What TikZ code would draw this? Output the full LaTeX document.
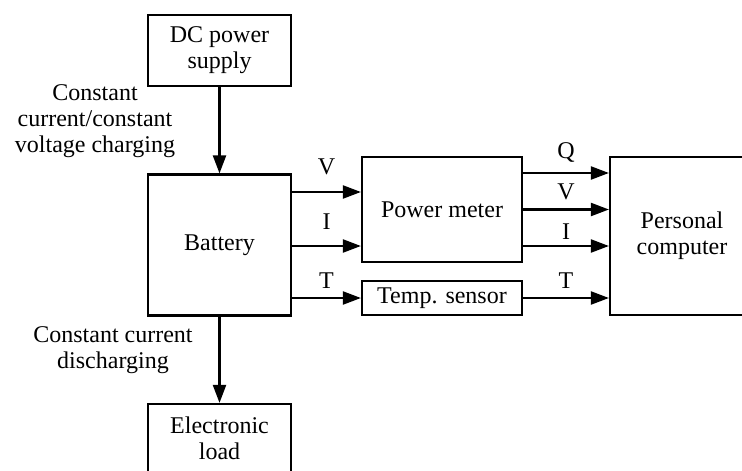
\documentclass[tikz,border=0pt]{standalone}
\usepackage{fontspec}
\setmainfont{Liberation Serif}
\usepackage{tikz}
\usetikzlibrary{arrows.meta, positioning, calc}
\tikzset{
  block/.style={rectangle, draw=black, fill=white, line width=1.1pt,
    align=center, inner sep=0pt, font=\fontsize{12}{13}\selectfont},
  arrow/.style={-{Triangle[length=9pt, width=6.5pt]}, line width=1.1pt},
  lbl/.style={align=center, font=\fontsize{12}{13}\selectfont},
  sig/.style={font=\fontsize{12}{13}\selectfont}
}

\begin{document}
\begin{tikzpicture}[x=0.5pt, y=-0.5pt]
  \useasboundingbox (0,0) rectangle (742,470);
  \clip (0,0) rectangle (742,470);

  % left column
  \node[block, minimum width=71.5pt, minimum height=35.5pt] (dc) at (219.5,50.5) {DC power\\supply};
  \node[block, minimum width=71.5pt, minimum height=70.5pt] (bat) at (219.5,245) {Battery};
  \node[block, minimum width=71.5pt, minimum height=34pt] (load) at (219.5,438) {Electronic\\load};

  % middle and right
  \node[block, minimum width=80pt, minimum height=52.5pt] (pm) at (442,209.5) {Power meter};
  \node[block, minimum width=80pt, minimum height=17pt] (ts) at (442,298) {Temp. sensor};
  \node[block, minimum width=72pt, minimum height=79pt] (pc) at (682,236) {Personal\\computer};

  % mode texts
  \node[lbl] (chg) at (95,121) {Constant\\current/constant\\voltage charging};
  \node[lbl] (dis) at (113,350.5) {Constant current\\discharging};

  \draw[arrow] (dc) -- (bat);
  \draw[arrow] (bat) -- (load);

  % battery to instruments
  \coordinate (vin) at ([yshift=8.75pt]pm.west);
  \coordinate (iin) at ([yshift=-18.25pt]pm.west);
  \draw[arrow] (bat.east |- vin) -- node[sig, midway, above=4.5pt] {V} (vin);
  \draw[arrow] (bat.east |- iin) -- node[sig, midway, above=4.5pt] {I} (iin);
  \draw[arrow] (bat.east |- ts.west) -- node[sig, midway, above=1pt] {T} (ts.west);

  % instruments to computer
  \coordinate (qout) at ([yshift=18.25pt]pm.east);
  \coordinate (iout) at ([yshift=-18.25pt]pm.east);
  \draw[arrow] (qout) -- node[sig, midway, above=1.5pt] {Q} (pc.west |- qout);
  \draw[arrow] (pm.east) -- node[sig, midway, above=1pt] {V} (pc.west |- pm.east);
  \draw[arrow] (iout) -- node[sig, midway, above=-0.5pt] {I} (pc.west |- iout);
  \draw[arrow] (ts.east) -- node[sig, midway, above=1pt] {T} (pc.west |- ts.east);
\end{tikzpicture}
\end{document}
